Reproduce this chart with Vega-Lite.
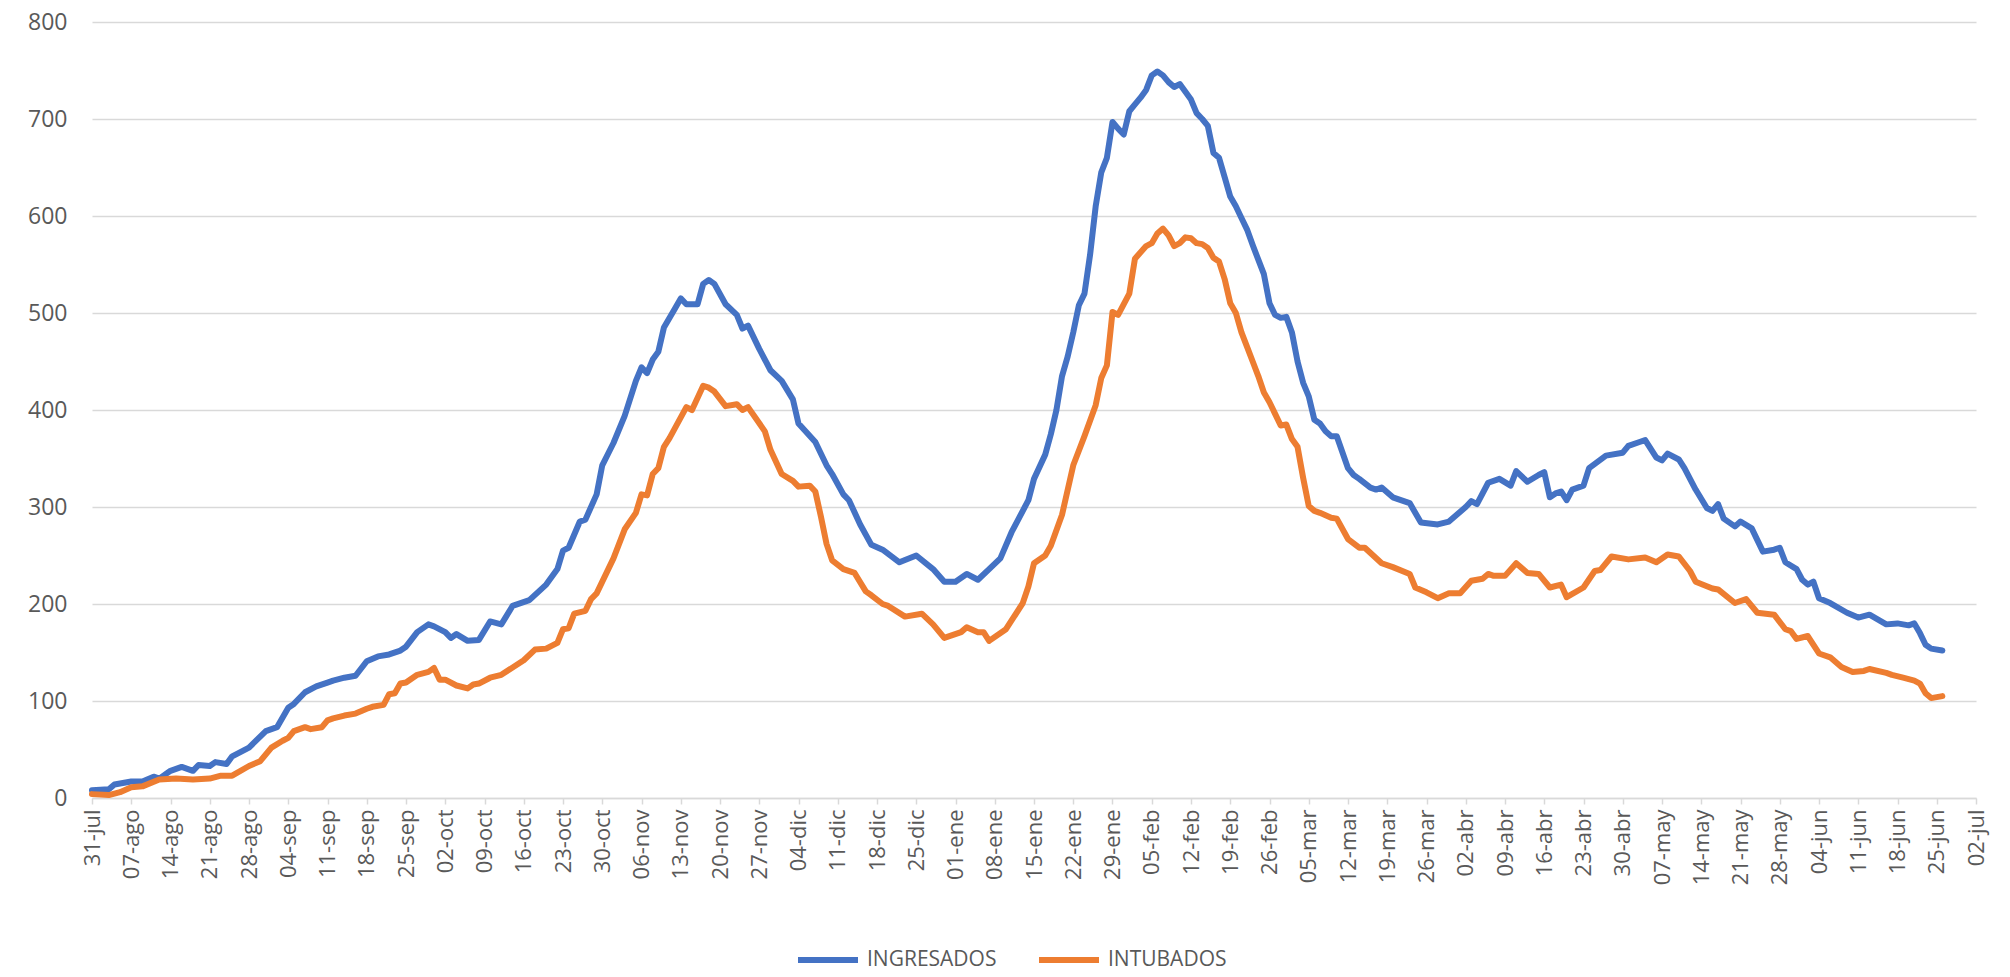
{
  "$schema": "https://vega.github.io/schema/vega-lite/v6.json",
  "autosize": {"type": "none"},
  "width": 1884,
  "height": 776,
  "padding": {"left": 92, "top": 22, "right": 34, "bottom": 179},
  "background": "white",
  "config": {
    "view": {"stroke": null},
    "font": "Open Sans"
  },
  "data": {"values": [
    {"fecha":"2020-07-31","serie":"INGRESADOS","valor":8},
    {"fecha":"2020-08-03","serie":"INGRESADOS","valor":9},
    {"fecha":"2020-08-04","serie":"INGRESADOS","valor":14},
    {"fecha":"2020-08-07","serie":"INGRESADOS","valor":17},
    {"fecha":"2020-08-09","serie":"INGRESADOS","valor":17},
    {"fecha":"2020-08-11","serie":"INGRESADOS","valor":22},
    {"fecha":"2020-08-12","serie":"INGRESADOS","valor":20},
    {"fecha":"2020-08-14","serie":"INGRESADOS","valor":28},
    {"fecha":"2020-08-16","serie":"INGRESADOS","valor":32},
    {"fecha":"2020-08-18","serie":"INGRESADOS","valor":28},
    {"fecha":"2020-08-19","serie":"INGRESADOS","valor":34},
    {"fecha":"2020-08-21","serie":"INGRESADOS","valor":33},
    {"fecha":"2020-08-22","serie":"INGRESADOS","valor":37},
    {"fecha":"2020-08-24","serie":"INGRESADOS","valor":35},
    {"fecha":"2020-08-25","serie":"INGRESADOS","valor":43},
    {"fecha":"2020-08-28","serie":"INGRESADOS","valor":52},
    {"fecha":"2020-08-31","serie":"INGRESADOS","valor":69},
    {"fecha":"2020-09-02","serie":"INGRESADOS","valor":73},
    {"fecha":"2020-09-04","serie":"INGRESADOS","valor":93},
    {"fecha":"2020-09-05","serie":"INGRESADOS","valor":97},
    {"fecha":"2020-09-07","serie":"INGRESADOS","valor":109},
    {"fecha":"2020-09-09","serie":"INGRESADOS","valor":115},
    {"fecha":"2020-09-11","serie":"INGRESADOS","valor":119},
    {"fecha":"2020-09-12","serie":"INGRESADOS","valor":121},
    {"fecha":"2020-09-14","serie":"INGRESADOS","valor":124},
    {"fecha":"2020-09-16","serie":"INGRESADOS","valor":126},
    {"fecha":"2020-09-18","serie":"INGRESADOS","valor":141},
    {"fecha":"2020-09-20","serie":"INGRESADOS","valor":146},
    {"fecha":"2020-09-22","serie":"INGRESADOS","valor":148},
    {"fecha":"2020-09-24","serie":"INGRESADOS","valor":152},
    {"fecha":"2020-09-25","serie":"INGRESADOS","valor":156},
    {"fecha":"2020-09-27","serie":"INGRESADOS","valor":171},
    {"fecha":"2020-09-29","serie":"INGRESADOS","valor":179},
    {"fecha":"2020-09-30","serie":"INGRESADOS","valor":177},
    {"fecha":"2020-10-02","serie":"INGRESADOS","valor":171},
    {"fecha":"2020-10-03","serie":"INGRESADOS","valor":165},
    {"fecha":"2020-10-04","serie":"INGRESADOS","valor":169},
    {"fecha":"2020-10-06","serie":"INGRESADOS","valor":162},
    {"fecha":"2020-10-08","serie":"INGRESADOS","valor":163},
    {"fecha":"2020-10-10","serie":"INGRESADOS","valor":182},
    {"fecha":"2020-10-12","serie":"INGRESADOS","valor":179},
    {"fecha":"2020-10-14","serie":"INGRESADOS","valor":198},
    {"fecha":"2020-10-17","serie":"INGRESADOS","valor":204},
    {"fecha":"2020-10-20","serie":"INGRESADOS","valor":220},
    {"fecha":"2020-10-22","serie":"INGRESADOS","valor":236},
    {"fecha":"2020-10-23","serie":"INGRESADOS","valor":255},
    {"fecha":"2020-10-24","serie":"INGRESADOS","valor":258},
    {"fecha":"2020-10-26","serie":"INGRESADOS","valor":285},
    {"fecha":"2020-10-27","serie":"INGRESADOS","valor":287},
    {"fecha":"2020-10-29","serie":"INGRESADOS","valor":313},
    {"fecha":"2020-10-30","serie":"INGRESADOS","valor":343},
    {"fecha":"2020-11-01","serie":"INGRESADOS","valor":366},
    {"fecha":"2020-11-03","serie":"INGRESADOS","valor":394},
    {"fecha":"2020-11-05","serie":"INGRESADOS","valor":430},
    {"fecha":"2020-11-06","serie":"INGRESADOS","valor":444},
    {"fecha":"2020-11-07","serie":"INGRESADOS","valor":438},
    {"fecha":"2020-11-08","serie":"INGRESADOS","valor":452},
    {"fecha":"2020-11-09","serie":"INGRESADOS","valor":460},
    {"fecha":"2020-11-10","serie":"INGRESADOS","valor":485},
    {"fecha":"2020-11-12","serie":"INGRESADOS","valor":505},
    {"fecha":"2020-11-13","serie":"INGRESADOS","valor":515},
    {"fecha":"2020-11-14","serie":"INGRESADOS","valor":509},
    {"fecha":"2020-11-16","serie":"INGRESADOS","valor":509},
    {"fecha":"2020-11-17","serie":"INGRESADOS","valor":530},
    {"fecha":"2020-11-18","serie":"INGRESADOS","valor":534},
    {"fecha":"2020-11-19","serie":"INGRESADOS","valor":530},
    {"fecha":"2020-11-21","serie":"INGRESADOS","valor":509},
    {"fecha":"2020-11-23","serie":"INGRESADOS","valor":498},
    {"fecha":"2020-11-24","serie":"INGRESADOS","valor":484},
    {"fecha":"2020-11-25","serie":"INGRESADOS","valor":487},
    {"fecha":"2020-11-27","serie":"INGRESADOS","valor":463},
    {"fecha":"2020-11-29","serie":"INGRESADOS","valor":441},
    {"fecha":"2020-12-01","serie":"INGRESADOS","valor":430},
    {"fecha":"2020-12-03","serie":"INGRESADOS","valor":411},
    {"fecha":"2020-12-04","serie":"INGRESADOS","valor":386},
    {"fecha":"2020-12-07","serie":"INGRESADOS","valor":367},
    {"fecha":"2020-12-09","serie":"INGRESADOS","valor":343},
    {"fecha":"2020-12-10","serie":"INGRESADOS","valor":334},
    {"fecha":"2020-12-12","serie":"INGRESADOS","valor":313},
    {"fecha":"2020-12-13","serie":"INGRESADOS","valor":307},
    {"fecha":"2020-12-15","serie":"INGRESADOS","valor":282},
    {"fecha":"2020-12-17","serie":"INGRESADOS","valor":261},
    {"fecha":"2020-12-19","serie":"INGRESADOS","valor":256},
    {"fecha":"2020-12-22","serie":"INGRESADOS","valor":243},
    {"fecha":"2020-12-25","serie":"INGRESADOS","valor":250},
    {"fecha":"2020-12-28","serie":"INGRESADOS","valor":236},
    {"fecha":"2020-12-30","serie":"INGRESADOS","valor":223},
    {"fecha":"2021-01-01","serie":"INGRESADOS","valor":223},
    {"fecha":"2021-01-03","serie":"INGRESADOS","valor":231},
    {"fecha":"2021-01-05","serie":"INGRESADOS","valor":225},
    {"fecha":"2021-01-07","serie":"INGRESADOS","valor":236},
    {"fecha":"2021-01-09","serie":"INGRESADOS","valor":247},
    {"fecha":"2021-01-11","serie":"INGRESADOS","valor":274},
    {"fecha":"2021-01-14","serie":"INGRESADOS","valor":307},
    {"fecha":"2021-01-15","serie":"INGRESADOS","valor":329},
    {"fecha":"2021-01-17","serie":"INGRESADOS","valor":354},
    {"fecha":"2021-01-18","serie":"INGRESADOS","valor":375},
    {"fecha":"2021-01-19","serie":"INGRESADOS","valor":400},
    {"fecha":"2021-01-20","serie":"INGRESADOS","valor":435},
    {"fecha":"2021-01-21","serie":"INGRESADOS","valor":455},
    {"fecha":"2021-01-22","serie":"INGRESADOS","valor":480},
    {"fecha":"2021-01-23","serie":"INGRESADOS","valor":508},
    {"fecha":"2021-01-24","serie":"INGRESADOS","valor":520},
    {"fecha":"2021-01-25","serie":"INGRESADOS","valor":560},
    {"fecha":"2021-01-26","serie":"INGRESADOS","valor":610},
    {"fecha":"2021-01-27","serie":"INGRESADOS","valor":645},
    {"fecha":"2021-01-28","serie":"INGRESADOS","valor":660},
    {"fecha":"2021-01-29","serie":"INGRESADOS","valor":697},
    {"fecha":"2021-01-30","serie":"INGRESADOS","valor":690},
    {"fecha":"2021-01-31","serie":"INGRESADOS","valor":684},
    {"fecha":"2021-02-01","serie":"INGRESADOS","valor":708},
    {"fecha":"2021-02-02","serie":"INGRESADOS","valor":715},
    {"fecha":"2021-02-03","serie":"INGRESADOS","valor":722},
    {"fecha":"2021-02-04","serie":"INGRESADOS","valor":730},
    {"fecha":"2021-02-05","serie":"INGRESADOS","valor":745},
    {"fecha":"2021-02-06","serie":"INGRESADOS","valor":749},
    {"fecha":"2021-02-07","serie":"INGRESADOS","valor":745},
    {"fecha":"2021-02-08","serie":"INGRESADOS","valor":738},
    {"fecha":"2021-02-09","serie":"INGRESADOS","valor":733},
    {"fecha":"2021-02-10","serie":"INGRESADOS","valor":736},
    {"fecha":"2021-02-11","serie":"INGRESADOS","valor":728},
    {"fecha":"2021-02-12","serie":"INGRESADOS","valor":720},
    {"fecha":"2021-02-13","serie":"INGRESADOS","valor":706},
    {"fecha":"2021-02-14","serie":"INGRESADOS","valor":700},
    {"fecha":"2021-02-15","serie":"INGRESADOS","valor":693},
    {"fecha":"2021-02-16","serie":"INGRESADOS","valor":665},
    {"fecha":"2021-02-17","serie":"INGRESADOS","valor":660},
    {"fecha":"2021-02-18","serie":"INGRESADOS","valor":640},
    {"fecha":"2021-02-19","serie":"INGRESADOS","valor":620},
    {"fecha":"2021-02-20","serie":"INGRESADOS","valor":610},
    {"fecha":"2021-02-21","serie":"INGRESADOS","valor":598},
    {"fecha":"2021-02-22","serie":"INGRESADOS","valor":586},
    {"fecha":"2021-02-23","serie":"INGRESADOS","valor":570},
    {"fecha":"2021-02-24","serie":"INGRESADOS","valor":555},
    {"fecha":"2021-02-25","serie":"INGRESADOS","valor":540},
    {"fecha":"2021-02-26","serie":"INGRESADOS","valor":510},
    {"fecha":"2021-02-27","serie":"INGRESADOS","valor":498},
    {"fecha":"2021-02-28","serie":"INGRESADOS","valor":495},
    {"fecha":"2021-03-01","serie":"INGRESADOS","valor":496},
    {"fecha":"2021-03-02","serie":"INGRESADOS","valor":480},
    {"fecha":"2021-03-03","serie":"INGRESADOS","valor":450},
    {"fecha":"2021-03-04","serie":"INGRESADOS","valor":428},
    {"fecha":"2021-03-05","serie":"INGRESADOS","valor":414},
    {"fecha":"2021-03-06","serie":"INGRESADOS","valor":390},
    {"fecha":"2021-03-07","serie":"INGRESADOS","valor":386},
    {"fecha":"2021-03-08","serie":"INGRESADOS","valor":378},
    {"fecha":"2021-03-09","serie":"INGRESADOS","valor":373},
    {"fecha":"2021-03-10","serie":"INGRESADOS","valor":373},
    {"fecha":"2021-03-12","serie":"INGRESADOS","valor":340},
    {"fecha":"2021-03-13","serie":"INGRESADOS","valor":333},
    {"fecha":"2021-03-14","serie":"INGRESADOS","valor":329},
    {"fecha":"2021-03-16","serie":"INGRESADOS","valor":320},
    {"fecha":"2021-03-17","serie":"INGRESADOS","valor":318},
    {"fecha":"2021-03-18","serie":"INGRESADOS","valor":320},
    {"fecha":"2021-03-20","serie":"INGRESADOS","valor":310},
    {"fecha":"2021-03-23","serie":"INGRESADOS","valor":304},
    {"fecha":"2021-03-25","serie":"INGRESADOS","valor":284},
    {"fecha":"2021-03-28","serie":"INGRESADOS","valor":282},
    {"fecha":"2021-03-30","serie":"INGRESADOS","valor":285},
    {"fecha":"2021-04-02","serie":"INGRESADOS","valor":300},
    {"fecha":"2021-04-03","serie":"INGRESADOS","valor":306},
    {"fecha":"2021-04-04","serie":"INGRESADOS","valor":303},
    {"fecha":"2021-04-06","serie":"INGRESADOS","valor":325},
    {"fecha":"2021-04-08","serie":"INGRESADOS","valor":329},
    {"fecha":"2021-04-10","serie":"INGRESADOS","valor":322},
    {"fecha":"2021-04-11","serie":"INGRESADOS","valor":337},
    {"fecha":"2021-04-13","serie":"INGRESADOS","valor":326},
    {"fecha":"2021-04-15","serie":"INGRESADOS","valor":333},
    {"fecha":"2021-04-16","serie":"INGRESADOS","valor":336},
    {"fecha":"2021-04-17","serie":"INGRESADOS","valor":310},
    {"fecha":"2021-04-18","serie":"INGRESADOS","valor":314},
    {"fecha":"2021-04-19","serie":"INGRESADOS","valor":316},
    {"fecha":"2021-04-20","serie":"INGRESADOS","valor":307},
    {"fecha":"2021-04-21","serie":"INGRESADOS","valor":318},
    {"fecha":"2021-04-23","serie":"INGRESADOS","valor":322},
    {"fecha":"2021-04-24","serie":"INGRESADOS","valor":340},
    {"fecha":"2021-04-27","serie":"INGRESADOS","valor":353},
    {"fecha":"2021-04-30","serie":"INGRESADOS","valor":356},
    {"fecha":"2021-05-01","serie":"INGRESADOS","valor":363},
    {"fecha":"2021-05-03","serie":"INGRESADOS","valor":367},
    {"fecha":"2021-05-04","serie":"INGRESADOS","valor":369},
    {"fecha":"2021-05-06","serie":"INGRESADOS","valor":351},
    {"fecha":"2021-05-07","serie":"INGRESADOS","valor":348},
    {"fecha":"2021-05-08","serie":"INGRESADOS","valor":355},
    {"fecha":"2021-05-10","serie":"INGRESADOS","valor":349},
    {"fecha":"2021-05-11","serie":"INGRESADOS","valor":340},
    {"fecha":"2021-05-12","serie":"INGRESADOS","valor":329},
    {"fecha":"2021-05-13","serie":"INGRESADOS","valor":318},
    {"fecha":"2021-05-15","serie":"INGRESADOS","valor":299},
    {"fecha":"2021-05-16","serie":"INGRESADOS","valor":296},
    {"fecha":"2021-05-17","serie":"INGRESADOS","valor":303},
    {"fecha":"2021-05-18","serie":"INGRESADOS","valor":288},
    {"fecha":"2021-05-20","serie":"INGRESADOS","valor":280},
    {"fecha":"2021-05-21","serie":"INGRESADOS","valor":285},
    {"fecha":"2021-05-23","serie":"INGRESADOS","valor":278},
    {"fecha":"2021-05-25","serie":"INGRESADOS","valor":254},
    {"fecha":"2021-05-27","serie":"INGRESADOS","valor":256},
    {"fecha":"2021-05-28","serie":"INGRESADOS","valor":258},
    {"fecha":"2021-05-29","serie":"INGRESADOS","valor":243},
    {"fecha":"2021-05-31","serie":"INGRESADOS","valor":236},
    {"fecha":"2021-06-01","serie":"INGRESADOS","valor":225},
    {"fecha":"2021-06-02","serie":"INGRESADOS","valor":220},
    {"fecha":"2021-06-03","serie":"INGRESADOS","valor":223},
    {"fecha":"2021-06-04","serie":"INGRESADOS","valor":206},
    {"fecha":"2021-06-06","serie":"INGRESADOS","valor":201},
    {"fecha":"2021-06-09","serie":"INGRESADOS","valor":191},
    {"fecha":"2021-06-11","serie":"INGRESADOS","valor":186},
    {"fecha":"2021-06-13","serie":"INGRESADOS","valor":189},
    {"fecha":"2021-06-16","serie":"INGRESADOS","valor":179},
    {"fecha":"2021-06-18","serie":"INGRESADOS","valor":180},
    {"fecha":"2021-06-20","serie":"INGRESADOS","valor":178},
    {"fecha":"2021-06-21","serie":"INGRESADOS","valor":180},
    {"fecha":"2021-06-22","serie":"INGRESADOS","valor":170},
    {"fecha":"2021-06-23","serie":"INGRESADOS","valor":158},
    {"fecha":"2021-06-24","serie":"INGRESADOS","valor":154},
    {"fecha":"2021-06-26","serie":"INGRESADOS","valor":152},
    {"fecha":"2020-07-31","serie":"INTUBADOS","valor":4},
    {"fecha":"2020-08-03","serie":"INTUBADOS","valor":3},
    {"fecha":"2020-08-05","serie":"INTUBADOS","valor":6},
    {"fecha":"2020-08-07","serie":"INTUBADOS","valor":11},
    {"fecha":"2020-08-09","serie":"INTUBADOS","valor":12},
    {"fecha":"2020-08-12","serie":"INTUBADOS","valor":19},
    {"fecha":"2020-08-15","serie":"INTUBADOS","valor":20},
    {"fecha":"2020-08-18","serie":"INTUBADOS","valor":19},
    {"fecha":"2020-08-21","serie":"INTUBADOS","valor":20},
    {"fecha":"2020-08-23","serie":"INTUBADOS","valor":23},
    {"fecha":"2020-08-25","serie":"INTUBADOS","valor":23},
    {"fecha":"2020-08-28","serie":"INTUBADOS","valor":33},
    {"fecha":"2020-08-30","serie":"INTUBADOS","valor":38},
    {"fecha":"2020-09-01","serie":"INTUBADOS","valor":52},
    {"fecha":"2020-09-03","serie":"INTUBADOS","valor":59},
    {"fecha":"2020-09-04","serie":"INTUBADOS","valor":62},
    {"fecha":"2020-09-05","serie":"INTUBADOS","valor":69},
    {"fecha":"2020-09-07","serie":"INTUBADOS","valor":73},
    {"fecha":"2020-09-08","serie":"INTUBADOS","valor":71},
    {"fecha":"2020-09-10","serie":"INTUBADOS","valor":73},
    {"fecha":"2020-09-11","serie":"INTUBADOS","valor":80},
    {"fecha":"2020-09-12","serie":"INTUBADOS","valor":82},
    {"fecha":"2020-09-14","serie":"INTUBADOS","valor":85},
    {"fecha":"2020-09-16","serie":"INTUBADOS","valor":87},
    {"fecha":"2020-09-18","serie":"INTUBADOS","valor":92},
    {"fecha":"2020-09-19","serie":"INTUBADOS","valor":94},
    {"fecha":"2020-09-21","serie":"INTUBADOS","valor":96},
    {"fecha":"2020-09-22","serie":"INTUBADOS","valor":107},
    {"fecha":"2020-09-23","serie":"INTUBADOS","valor":108},
    {"fecha":"2020-09-24","serie":"INTUBADOS","valor":118},
    {"fecha":"2020-09-25","serie":"INTUBADOS","valor":119},
    {"fecha":"2020-09-27","serie":"INTUBADOS","valor":127},
    {"fecha":"2020-09-29","serie":"INTUBADOS","valor":130},
    {"fecha":"2020-09-30","serie":"INTUBADOS","valor":134},
    {"fecha":"2020-10-01","serie":"INTUBADOS","valor":122},
    {"fecha":"2020-10-02","serie":"INTUBADOS","valor":122},
    {"fecha":"2020-10-04","serie":"INTUBADOS","valor":116},
    {"fecha":"2020-10-06","serie":"INTUBADOS","valor":113},
    {"fecha":"2020-10-07","serie":"INTUBADOS","valor":117},
    {"fecha":"2020-10-08","serie":"INTUBADOS","valor":118},
    {"fecha":"2020-10-10","serie":"INTUBADOS","valor":124},
    {"fecha":"2020-10-12","serie":"INTUBADOS","valor":127},
    {"fecha":"2020-10-16","serie":"INTUBADOS","valor":142},
    {"fecha":"2020-10-18","serie":"INTUBADOS","valor":153},
    {"fecha":"2020-10-20","serie":"INTUBADOS","valor":154},
    {"fecha":"2020-10-22","serie":"INTUBADOS","valor":160},
    {"fecha":"2020-10-23","serie":"INTUBADOS","valor":174},
    {"fecha":"2020-10-24","serie":"INTUBADOS","valor":175},
    {"fecha":"2020-10-25","serie":"INTUBADOS","valor":190},
    {"fecha":"2020-10-27","serie":"INTUBADOS","valor":193},
    {"fecha":"2020-10-28","serie":"INTUBADOS","valor":205},
    {"fecha":"2020-10-29","serie":"INTUBADOS","valor":211},
    {"fecha":"2020-11-01","serie":"INTUBADOS","valor":247},
    {"fecha":"2020-11-03","serie":"INTUBADOS","valor":277},
    {"fecha":"2020-11-05","serie":"INTUBADOS","valor":294},
    {"fecha":"2020-11-06","serie":"INTUBADOS","valor":313},
    {"fecha":"2020-11-07","serie":"INTUBADOS","valor":312},
    {"fecha":"2020-11-08","serie":"INTUBADOS","valor":334},
    {"fecha":"2020-11-09","serie":"INTUBADOS","valor":340},
    {"fecha":"2020-11-10","serie":"INTUBADOS","valor":362},
    {"fecha":"2020-11-11","serie":"INTUBADOS","valor":371},
    {"fecha":"2020-11-14","serie":"INTUBADOS","valor":403},
    {"fecha":"2020-11-15","serie":"INTUBADOS","valor":400},
    {"fecha":"2020-11-17","serie":"INTUBADOS","valor":425},
    {"fecha":"2020-11-18","serie":"INTUBADOS","valor":423},
    {"fecha":"2020-11-19","serie":"INTUBADOS","valor":419},
    {"fecha":"2020-11-21","serie":"INTUBADOS","valor":404},
    {"fecha":"2020-11-23","serie":"INTUBADOS","valor":406},
    {"fecha":"2020-11-24","serie":"INTUBADOS","valor":400},
    {"fecha":"2020-11-25","serie":"INTUBADOS","valor":403},
    {"fecha":"2020-11-28","serie":"INTUBADOS","valor":378},
    {"fecha":"2020-11-29","serie":"INTUBADOS","valor":359},
    {"fecha":"2020-12-01","serie":"INTUBADOS","valor":334},
    {"fecha":"2020-12-03","serie":"INTUBADOS","valor":327},
    {"fecha":"2020-12-04","serie":"INTUBADOS","valor":321},
    {"fecha":"2020-12-06","serie":"INTUBADOS","valor":322},
    {"fecha":"2020-12-07","serie":"INTUBADOS","valor":316},
    {"fecha":"2020-12-08","serie":"INTUBADOS","valor":290},
    {"fecha":"2020-12-09","serie":"INTUBADOS","valor":262},
    {"fecha":"2020-12-10","serie":"INTUBADOS","valor":245},
    {"fecha":"2020-12-12","serie":"INTUBADOS","valor":236},
    {"fecha":"2020-12-14","serie":"INTUBADOS","valor":232},
    {"fecha":"2020-12-16","serie":"INTUBADOS","valor":213},
    {"fecha":"2020-12-17","serie":"INTUBADOS","valor":209},
    {"fecha":"2020-12-19","serie":"INTUBADOS","valor":200},
    {"fecha":"2020-12-20","serie":"INTUBADOS","valor":198},
    {"fecha":"2020-12-23","serie":"INTUBADOS","valor":187},
    {"fecha":"2020-12-26","serie":"INTUBADOS","valor":190},
    {"fecha":"2020-12-28","serie":"INTUBADOS","valor":179},
    {"fecha":"2020-12-30","serie":"INTUBADOS","valor":165},
    {"fecha":"2021-01-02","serie":"INTUBADOS","valor":171},
    {"fecha":"2021-01-03","serie":"INTUBADOS","valor":176},
    {"fecha":"2021-01-05","serie":"INTUBADOS","valor":171},
    {"fecha":"2021-01-06","serie":"INTUBADOS","valor":171},
    {"fecha":"2021-01-07","serie":"INTUBADOS","valor":162},
    {"fecha":"2021-01-10","serie":"INTUBADOS","valor":174},
    {"fecha":"2021-01-13","serie":"INTUBADOS","valor":201},
    {"fecha":"2021-01-14","serie":"INTUBADOS","valor":218},
    {"fecha":"2021-01-15","serie":"INTUBADOS","valor":242},
    {"fecha":"2021-01-17","serie":"INTUBADOS","valor":250},
    {"fecha":"2021-01-18","serie":"INTUBADOS","valor":260},
    {"fecha":"2021-01-20","serie":"INTUBADOS","valor":292},
    {"fecha":"2021-01-22","serie":"INTUBADOS","valor":343},
    {"fecha":"2021-01-24","serie":"INTUBADOS","valor":373},
    {"fecha":"2021-01-26","serie":"INTUBADOS","valor":405},
    {"fecha":"2021-01-27","serie":"INTUBADOS","valor":433},
    {"fecha":"2021-01-28","serie":"INTUBADOS","valor":446},
    {"fecha":"2021-01-29","serie":"INTUBADOS","valor":501},
    {"fecha":"2021-01-30","serie":"INTUBADOS","valor":498},
    {"fecha":"2021-02-01","serie":"INTUBADOS","valor":520},
    {"fecha":"2021-02-02","serie":"INTUBADOS","valor":556},
    {"fecha":"2021-02-04","serie":"INTUBADOS","valor":569},
    {"fecha":"2021-02-05","serie":"INTUBADOS","valor":572},
    {"fecha":"2021-02-06","serie":"INTUBADOS","valor":582},
    {"fecha":"2021-02-07","serie":"INTUBADOS","valor":587},
    {"fecha":"2021-02-08","serie":"INTUBADOS","valor":580},
    {"fecha":"2021-02-09","serie":"INTUBADOS","valor":569},
    {"fecha":"2021-02-10","serie":"INTUBADOS","valor":572},
    {"fecha":"2021-02-11","serie":"INTUBADOS","valor":578},
    {"fecha":"2021-02-12","serie":"INTUBADOS","valor":577},
    {"fecha":"2021-02-13","serie":"INTUBADOS","valor":572},
    {"fecha":"2021-02-14","serie":"INTUBADOS","valor":571},
    {"fecha":"2021-02-15","serie":"INTUBADOS","valor":567},
    {"fecha":"2021-02-16","serie":"INTUBADOS","valor":557},
    {"fecha":"2021-02-17","serie":"INTUBADOS","valor":553},
    {"fecha":"2021-02-18","serie":"INTUBADOS","valor":535},
    {"fecha":"2021-02-19","serie":"INTUBADOS","valor":510},
    {"fecha":"2021-02-20","serie":"INTUBADOS","valor":500},
    {"fecha":"2021-02-21","serie":"INTUBADOS","valor":480},
    {"fecha":"2021-02-22","serie":"INTUBADOS","valor":465},
    {"fecha":"2021-02-23","serie":"INTUBADOS","valor":450},
    {"fecha":"2021-02-24","serie":"INTUBADOS","valor":435},
    {"fecha":"2021-02-25","serie":"INTUBADOS","valor":418},
    {"fecha":"2021-02-26","serie":"INTUBADOS","valor":408},
    {"fecha":"2021-02-27","serie":"INTUBADOS","valor":396},
    {"fecha":"2021-02-28","serie":"INTUBADOS","valor":384},
    {"fecha":"2021-03-01","serie":"INTUBADOS","valor":385},
    {"fecha":"2021-03-02","serie":"INTUBADOS","valor":370},
    {"fecha":"2021-03-03","serie":"INTUBADOS","valor":362},
    {"fecha":"2021-03-04","serie":"INTUBADOS","valor":330},
    {"fecha":"2021-03-05","serie":"INTUBADOS","valor":301},
    {"fecha":"2021-03-06","serie":"INTUBADOS","valor":296},
    {"fecha":"2021-03-07","serie":"INTUBADOS","valor":294},
    {"fecha":"2021-03-09","serie":"INTUBADOS","valor":289},
    {"fecha":"2021-03-10","serie":"INTUBADOS","valor":288},
    {"fecha":"2021-03-12","serie":"INTUBADOS","valor":267},
    {"fecha":"2021-03-14","serie":"INTUBADOS","valor":258},
    {"fecha":"2021-03-15","serie":"INTUBADOS","valor":258},
    {"fecha":"2021-03-18","serie":"INTUBADOS","valor":242},
    {"fecha":"2021-03-20","serie":"INTUBADOS","valor":238},
    {"fecha":"2021-03-23","serie":"INTUBADOS","valor":231},
    {"fecha":"2021-03-24","serie":"INTUBADOS","valor":217},
    {"fecha":"2021-03-26","serie":"INTUBADOS","valor":212},
    {"fecha":"2021-03-28","serie":"INTUBADOS","valor":206},
    {"fecha":"2021-03-30","serie":"INTUBADOS","valor":211},
    {"fecha":"2021-04-01","serie":"INTUBADOS","valor":211},
    {"fecha":"2021-04-03","serie":"INTUBADOS","valor":224},
    {"fecha":"2021-04-05","serie":"INTUBADOS","valor":226},
    {"fecha":"2021-04-06","serie":"INTUBADOS","valor":231},
    {"fecha":"2021-04-07","serie":"INTUBADOS","valor":229},
    {"fecha":"2021-04-09","serie":"INTUBADOS","valor":229},
    {"fecha":"2021-04-11","serie":"INTUBADOS","valor":242},
    {"fecha":"2021-04-13","serie":"INTUBADOS","valor":232},
    {"fecha":"2021-04-15","serie":"INTUBADOS","valor":231},
    {"fecha":"2021-04-17","serie":"INTUBADOS","valor":217},
    {"fecha":"2021-04-19","serie":"INTUBADOS","valor":220},
    {"fecha":"2021-04-20","serie":"INTUBADOS","valor":207},
    {"fecha":"2021-04-23","serie":"INTUBADOS","valor":217},
    {"fecha":"2021-04-25","serie":"INTUBADOS","valor":234},
    {"fecha":"2021-04-26","serie":"INTUBADOS","valor":235},
    {"fecha":"2021-04-28","serie":"INTUBADOS","valor":249},
    {"fecha":"2021-05-01","serie":"INTUBADOS","valor":246},
    {"fecha":"2021-05-04","serie":"INTUBADOS","valor":248},
    {"fecha":"2021-05-06","serie":"INTUBADOS","valor":243},
    {"fecha":"2021-05-08","serie":"INTUBADOS","valor":251},
    {"fecha":"2021-05-10","serie":"INTUBADOS","valor":249},
    {"fecha":"2021-05-12","serie":"INTUBADOS","valor":234},
    {"fecha":"2021-05-13","serie":"INTUBADOS","valor":223},
    {"fecha":"2021-05-16","serie":"INTUBADOS","valor":216},
    {"fecha":"2021-05-17","serie":"INTUBADOS","valor":215},
    {"fecha":"2021-05-20","serie":"INTUBADOS","valor":201},
    {"fecha":"2021-05-22","serie":"INTUBADOS","valor":205},
    {"fecha":"2021-05-24","serie":"INTUBADOS","valor":191},
    {"fecha":"2021-05-27","serie":"INTUBADOS","valor":189},
    {"fecha":"2021-05-29","serie":"INTUBADOS","valor":174},
    {"fecha":"2021-05-30","serie":"INTUBADOS","valor":172},
    {"fecha":"2021-05-31","serie":"INTUBADOS","valor":164},
    {"fecha":"2021-06-02","serie":"INTUBADOS","valor":167},
    {"fecha":"2021-06-04","serie":"INTUBADOS","valor":149},
    {"fecha":"2021-06-06","serie":"INTUBADOS","valor":145},
    {"fecha":"2021-06-08","serie":"INTUBADOS","valor":135},
    {"fecha":"2021-06-10","serie":"INTUBADOS","valor":130},
    {"fecha":"2021-06-12","serie":"INTUBADOS","valor":131},
    {"fecha":"2021-06-13","serie":"INTUBADOS","valor":133},
    {"fecha":"2021-06-16","serie":"INTUBADOS","valor":129},
    {"fecha":"2021-06-17","serie":"INTUBADOS","valor":127},
    {"fecha":"2021-06-19","serie":"INTUBADOS","valor":124},
    {"fecha":"2021-06-21","serie":"INTUBADOS","valor":121},
    {"fecha":"2021-06-22","serie":"INTUBADOS","valor":118},
    {"fecha":"2021-06-23","serie":"INTUBADOS","valor":108},
    {"fecha":"2021-06-24","serie":"INTUBADOS","valor":103},
    {"fecha":"2021-06-26","serie":"INTUBADOS","valor":105}
  ]},
  "mark": {"type": "line", "strokeWidth": 6, "strokeJoin": "round", "strokeCap": "round"},
  "encoding": {
    "x": {
      "field": "fecha",
      "type": "temporal",
      "scale": {"domain": [{"year": 2020, "month": 7, "date": 31}, {"year": 2021, "month": 7, "date": 2}]},
      "axis": {
        "title": null,
        "grid": false,
        "values": [
          {"year": 2020, "month": 7, "date": 31},
          {"year": 2020, "month": 8, "date": 7},
          {"year": 2020, "month": 8, "date": 14},
          {"year": 2020, "month": 8, "date": 21},
          {"year": 2020, "month": 8, "date": 28},
          {"year": 2020, "month": 9, "date": 4},
          {"year": 2020, "month": 9, "date": 11},
          {"year": 2020, "month": 9, "date": 18},
          {"year": 2020, "month": 9, "date": 25},
          {"year": 2020, "month": 10, "date": 2},
          {"year": 2020, "month": 10, "date": 9},
          {"year": 2020, "month": 10, "date": 16},
          {"year": 2020, "month": 10, "date": 23},
          {"year": 2020, "month": 10, "date": 30},
          {"year": 2020, "month": 11, "date": 6},
          {"year": 2020, "month": 11, "date": 13},
          {"year": 2020, "month": 11, "date": 20},
          {"year": 2020, "month": 11, "date": 27},
          {"year": 2020, "month": 12, "date": 4},
          {"year": 2020, "month": 12, "date": 11},
          {"year": 2020, "month": 12, "date": 18},
          {"year": 2020, "month": 12, "date": 25},
          {"year": 2021, "month": 1, "date": 1},
          {"year": 2021, "month": 1, "date": 8},
          {"year": 2021, "month": 1, "date": 15},
          {"year": 2021, "month": 1, "date": 22},
          {"year": 2021, "month": 1, "date": 29},
          {"year": 2021, "month": 2, "date": 5},
          {"year": 2021, "month": 2, "date": 12},
          {"year": 2021, "month": 2, "date": 19},
          {"year": 2021, "month": 2, "date": 26},
          {"year": 2021, "month": 3, "date": 5},
          {"year": 2021, "month": 3, "date": 12},
          {"year": 2021, "month": 3, "date": 19},
          {"year": 2021, "month": 3, "date": 26},
          {"year": 2021, "month": 4, "date": 2},
          {"year": 2021, "month": 4, "date": 9},
          {"year": 2021, "month": 4, "date": 16},
          {"year": 2021, "month": 4, "date": 23},
          {"year": 2021, "month": 4, "date": 30},
          {"year": 2021, "month": 5, "date": 7},
          {"year": 2021, "month": 5, "date": 14},
          {"year": 2021, "month": 5, "date": 21},
          {"year": 2021, "month": 5, "date": 28},
          {"year": 2021, "month": 6, "date": 4},
          {"year": 2021, "month": 6, "date": 11},
          {"year": 2021, "month": 6, "date": 18},
          {"year": 2021, "month": 6, "date": 25},
          {"year": 2021, "month": 7, "date": 2}
        ],
        "labelExpr": "timeFormat(datum.value, '%d') + '-' + ['ene','feb','mar','abr','may','jun','jul','ago','sep','oct','nov','dic'][month(datum.value)]",
        "labelAngle": -90,
        "labelFont": "Open Sans",
        "labelFontSize": 22,
        "labelColor": "#595959",
        "labelPadding": 5,
        "labelOverlap": false,
        "labelFlush": false,
        "domainColor": "#d9d9d9",
        "domainWidth": 1.5,
        "tickColor": "#d9d9d9",
        "tickWidth": 1.5,
        "tickSize": 6
      }
    },
    "y": {
      "field": "valor",
      "type": "quantitative",
      "scale": {"domain": [0, 800], "nice": false},
      "axis": {
        "title": null,
        "values": [0, 100, 200, 300, 400, 500, 600, 700, 800],
        "domain": false,
        "ticks": false,
        "labelFont": "Open Sans",
        "labelFontSize": 23,
        "labelColor": "#595959",
        "labelPadding": 25,
        "gridColor": "#d9d9d9",
        "gridWidth": 1.5
      }
    },
    "color": {
      "field": "serie",
      "type": "nominal",
      "scale": {"domain": ["INGRESADOS", "INTUBADOS"], "range": ["#4472C4", "#ED7D31"]},
      "legend": {
        "title": null,
        "orient": "none",
        "direction": "horizontal",
        "legendX": 703,
        "legendY": 905,
        "symbolType": "stroke",
        "symbolSize": 3600,
        "symbolStrokeWidth": 6,
        "labelFont": "Open Sans",
        "labelFontSize": 21,
        "labelColor": "#595959",
        "labelOffset": 6,
        "columnPadding": 30,
        "padding": 0
      }
    }
  }
}
